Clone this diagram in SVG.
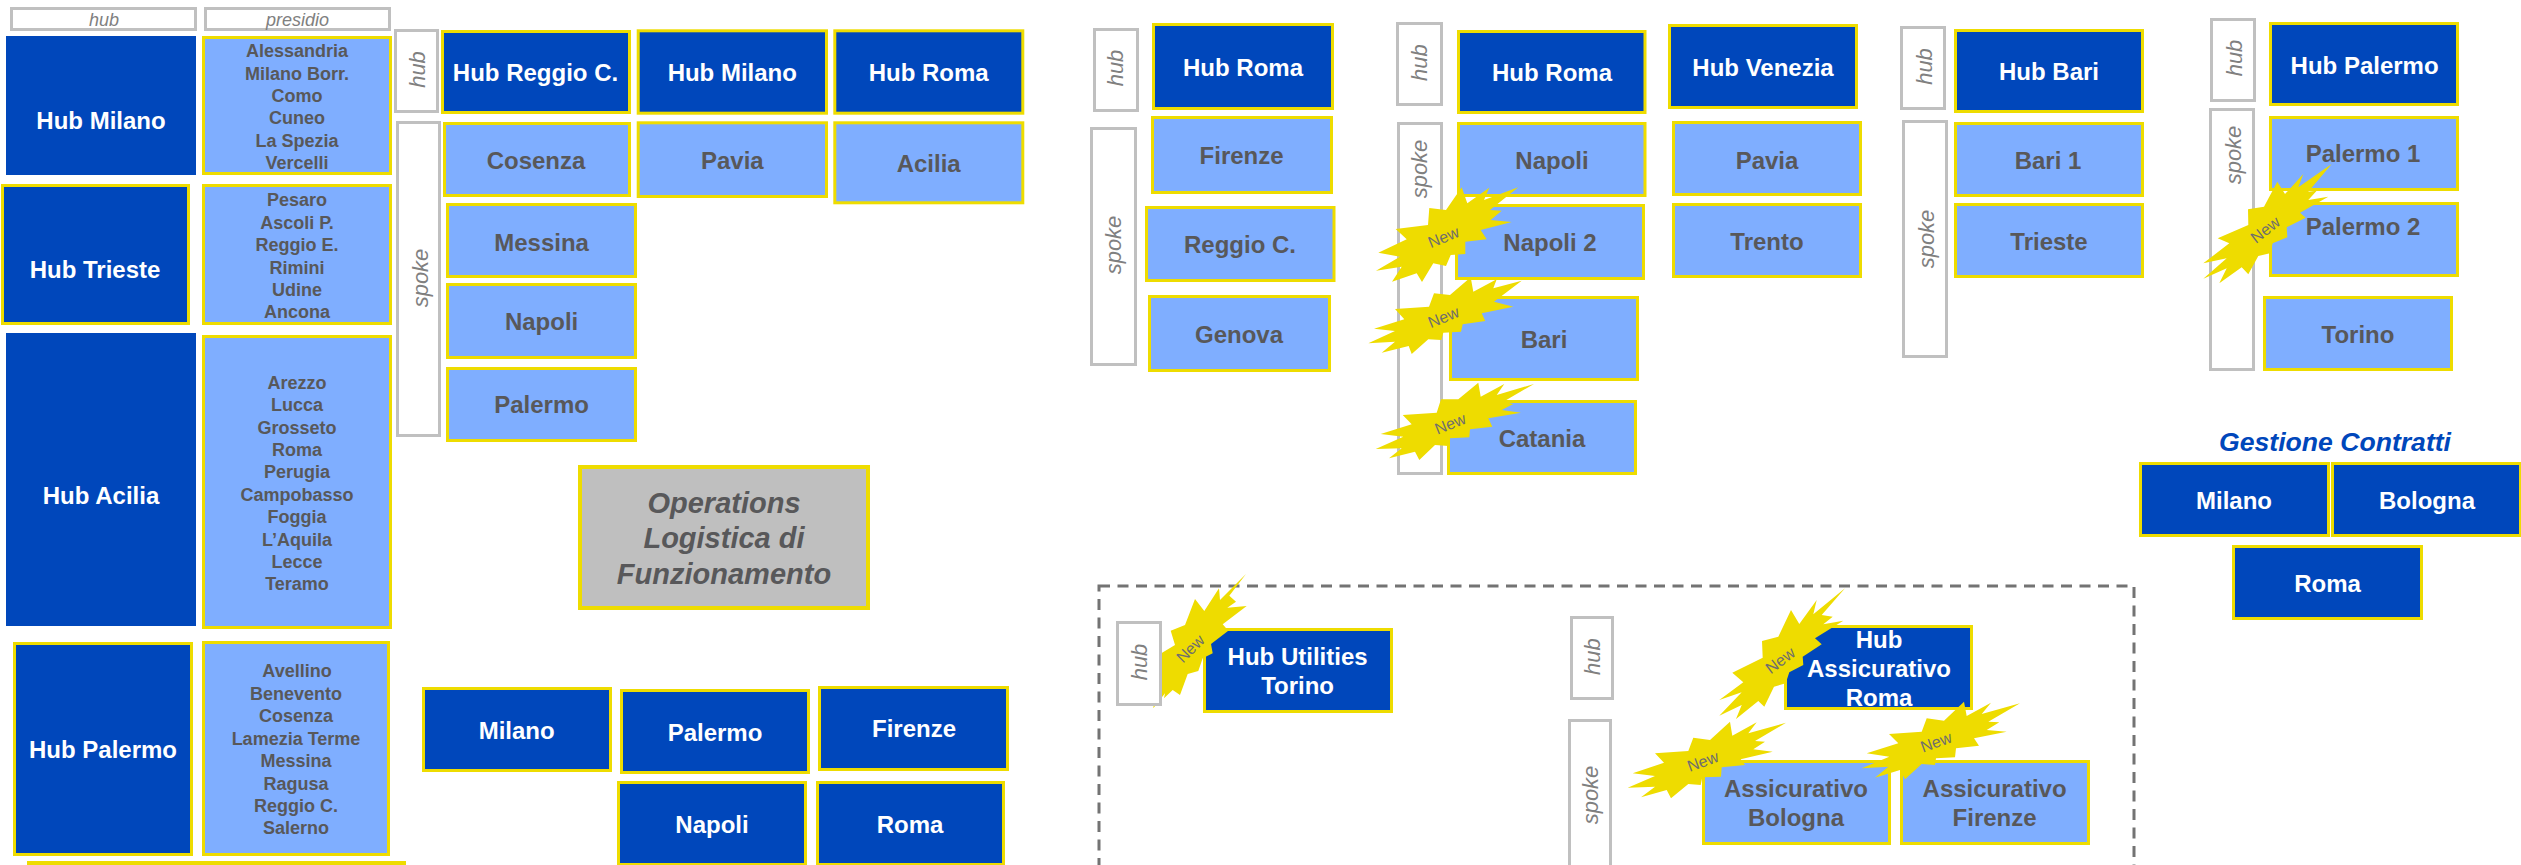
<svg xmlns="http://www.w3.org/2000/svg" width="2521" height="865" viewBox="0 0 2521 865">
<style>
text{font-family:"Liberation Sans",Arial,sans-serif;text-anchor:middle}
.b{fill:#0047BB;stroke:#EEDC00;stroke-width:3}
.n{fill:#0047BB}
.l{fill:#7FAEFF;stroke:#EEDC00;stroke-width:3}
.g{fill:#BFBFBF;stroke:#EEDC00;stroke-width:4}
.t{fill:#fff;stroke:#C0C0C0;stroke-width:3}
.h{fill:#fff;font-weight:bold;font-size:24px}
.d{fill:#58585A;font-weight:bold;font-size:24px}
.p{fill:#58585A;font-weight:bold;font-size:18px}
.o{fill:#58585A;font-weight:bold;font-style:italic;font-size:29px}
.c{fill:#0047BB;font-weight:bold;font-style:italic;font-size:26.6px}
.a{fill:#808080;font-style:italic;font-size:18px}
.v{fill:#808080;font-style:italic;font-size:22px}
.s{fill:#EEDC00}
.w{fill:#6E6E6E;font-size:16px}
.dash{fill:none;stroke:#737373;stroke-width:3;stroke-dasharray:11 7.5}
</style>
<g id="frame-utilities"><rect class="dash" x="1099" y="586" width="1035" height="420"/></g>

<g id="label-hub-top"><rect class="t" x="11.5" y="8.5" width="184" height="21"/><text class="a" x="104" y="26">hub</text></g>
<g id="label-presidio-top"><rect class="t" x="205.500" y="8.5" width="184" height="21"/><text class="a" x="297.500" y="26">presidio</text></g>

<g id="hub-milano"><rect class="n" x="6" y="36" width="190" height="139"/><text class="h" x="101" y="129">Hub Milano</text></g>
<g id="presidio-milano"><rect class="l" x="203.500" y="37.500" width="187" height="136"/><text class="p" x="297"><tspan x="297" y="57.300">Alessandria</tspan><tspan x="297" y="79.500">Milano Borr.</tspan><tspan x="297" y="102">Como</tspan><tspan x="297" y="124.400">Cuneo</tspan><tspan x="297" y="146.800">La Spezia</tspan><tspan x="297" y="169.300">Vercelli</tspan></text></g>
<g id="hub-trieste"><rect class="b" x="2.500" y="185.500" width="186" height="138"/><text class="h" x="95" y="278">Hub Trieste</text></g>
<g id="presidio-trieste"><rect class="l" x="203.500" y="185.500" width="187" height="138"/><text class="p"><tspan x="297" y="206.300">Pesaro</tspan><tspan x="297" y="228.700">Ascoli P.</tspan><tspan x="297" y="251">Reggio E.</tspan><tspan x="297" y="273.500">Rimini</tspan><tspan x="297" y="296">Udine</tspan><tspan x="297" y="318.300">Ancona</tspan></text></g>
<g id="hub-acilia"><rect class="n" x="6" y="333" width="190" height="293"/><text class="h" x="101" y="504">Hub Acilia</text></g>
<g id="presidio-acilia"><rect class="l" x="203.500" y="336.500" width="187" height="291"/><text class="p"><tspan x="297" y="389">Arezzo</tspan><tspan x="297" y="411.300">Lucca</tspan><tspan x="297" y="434">Grosseto</tspan><tspan x="297" y="456">Roma</tspan><tspan x="297" y="478.300">Perugia</tspan><tspan x="297" y="501">Campobasso</tspan><tspan x="297" y="523.300">Foggia</tspan><tspan x="297" y="546">L’Aquila</tspan><tspan x="297" y="568">Lecce</tspan><tspan x="297" y="590">Teramo</tspan></text></g>
<g id="hub-palermo"><rect class="b" x="14.500" y="643.500" width="177" height="211"/><text class="h" x="103" y="757.700">Hub Palermo</text></g>
<g id="presidio-palermo"><rect class="l" x="203.500" y="642.500" width="185" height="212"/><text class="p"><tspan x="297" y="677.300">Avellino</tspan><tspan x="296" y="700">Benevento</tspan><tspan x="296" y="722.300">Cosenza</tspan><tspan x="296" y="745">Lamezia Terme</tspan><tspan x="296" y="767.300">Messina</tspan><tspan x="296" y="790">Ragusa</tspan><tspan x="296" y="812.300">Reggio C.</tspan><tspan x="296" y="834">Salerno</tspan></text></g>
<g id="bottom-bar"><rect class="s" x="27" y="861" width="379" height="4"/></g>

<g id="label-hub-1"><rect class="t" x="395.500" y="30.500" width="42" height="81"/><text class="v" transform="translate(424.500 69.500) rotate(-90)">hub</text></g>
<g id="label-spoke-1"><rect class="t" x="397.500" y="122.500" width="42" height="313"/><text class="v" transform="translate(428 278) rotate(-90)">spoke</text></g>
<g id="hub-reggio"><rect class="b" x="442.500" y="31.500" width="187" height="81"/><text class="h" x="535.500" y="81">Hub Reggio C.</text></g>
<g id="cosenza"><rect class="l" x="444.500" y="123.500" width="185" height="72"/><text class="d" x="536" y="169.300">Cosenza</text></g>
<g id="messina"><rect class="l" x="447.500" y="204.500" width="188" height="72"/><text class="d" x="541.600" y="250.700">Messina</text></g>
<g id="napoli-1"><rect class="l" x="447.500" y="284.500" width="188" height="73"/><text class="d" x="541.600" y="330">Napoli</text></g>
<g id="palermo-1"><rect class="l" x="447.500" y="368.500" width="188" height="72"/><text class="d" x="541.600" y="413.300">Palermo</text></g>
<g id="hub-milano-2"><rect class="b" x="638.200" y="30.800" width="188.300" height="82.400"/><text class="h" x="732.300" y="80.700">Hub Milano</text></g>
<g id="hub-roma-1"><rect class="b" x="834.800" y="30.800" width="188" height="82.400"/><text class="h" x="928.700" y="80.700">Hub Roma</text></g>
<g id="pavia-1"><rect class="l" x="638.200" y="122.800" width="188.300" height="73.700"/><text class="d" x="732.300" y="169">Pavia</text></g>
<g id="acilia"><rect class="l" x="834.800" y="122.800" width="188" height="80"/><text class="d" x="928.700" y="171.700">Acilia</text></g>

<g id="operations"><rect class="g" x="580" y="467" width="288" height="141"/><text class="o"><tspan x="724" y="512.700">Operations</tspan><tspan x="724" y="548">Logistica di</tspan><tspan x="724" y="584">Funzionamento</tspan></text></g>

<g id="milano-3"><rect class="b" x="423.500" y="688.500" width="187" height="82"/><text class="h" x="516.700" y="739.300">Milano</text></g>
<g id="palermo-3"><rect class="b" x="621.500" y="690.500" width="187" height="82"/><text class="h" x="715" y="741">Palermo</text></g>
<g id="firenze-3"><rect class="b" x="819.500" y="687.500" width="188" height="82"/><text class="h" x="914" y="736.700">Firenze</text></g>
<g id="napoli-3"><rect class="b" x="618.500" y="782.500" width="187" height="82"/><text class="h" x="712" y="832.700">Napoli</text></g>
<g id="roma-3"><rect class="b" x="817.500" y="782.500" width="186" height="82"/><text class="h" x="910" y="832.700">Roma</text></g>

<g id="label-hub-2"><rect class="t" x="1094.500" y="29.500" width="43" height="81"/><text class="v" transform="translate(1123 68) rotate(-90)">hub</text></g>
<g id="label-spoke-2"><rect class="t" x="1091.500" y="128.500" width="44" height="236"/><text class="v" transform="translate(1121 245) rotate(-90)">spoke</text></g>
<g id="hub-roma-2"><rect class="b" x="1153.500" y="24.500" width="179" height="84"/><text class="h" x="1243" y="76">Hub Roma</text></g>
<g id="firenze-2"><rect class="l" x="1152.500" y="117.500" width="179" height="75"/><text class="d" x="1241.600" y="164">Firenze</text></g>
<g id="reggio-2"><rect class="l" x="1146.500" y="207.500" width="187.500" height="73"/><text class="d" x="1240" y="253">Reggio C.</text></g>
<g id="genova"><rect class="l" x="1149.500" y="296.500" width="180" height="74"/><text class="d" x="1239" y="343">Genova</text></g>

<g id="label-hub-3"><rect class="t" x="1397.500" y="23.500" width="44" height="81"/><text class="v" transform="translate(1427 62.700) rotate(-90)">hub</text></g>
<g id="label-spoke-3"><rect class="t" x="1398.500" y="123.500" width="43" height="350"/><text class="v" transform="translate(1427 169) rotate(-90)">spoke</text></g>
<g id="hub-roma-3"><rect class="b" x="1458.500" y="31.500" width="186.500" height="81"/><text class="h" x="1552" y="81">Hub Roma</text></g>
<g id="napoli-4"><rect class="l" x="1458.500" y="123.500" width="186.500" height="72"/><text class="d" x="1552" y="169">Napoli</text></g>
<g id="napoli-2"><rect class="l" x="1456.500" y="205.500" width="187" height="73"/><text class="d" x="1550" y="251">Napoli 2</text></g>
<g id="bari-4"><rect class="l" x="1450.500" y="297.500" width="187" height="82"/><text class="d" x="1544" y="347.700">Bari</text></g>
<g id="catania"><rect class="l" x="1448.500" y="401.500" width="187" height="72"/><text class="d" x="1542" y="446.700">Catania</text></g>

<g id="hub-venezia"><rect class="b" x="1669.500" y="25.500" width="187" height="82"/><text class="h" x="1763" y="76">Hub Venezia</text></g>
<g id="pavia-2"><rect class="l" x="1673.500" y="122.500" width="187" height="72"/><text class="d" x="1767" y="168.500">Pavia</text></g>
<g id="trento"><rect class="l" x="1673.500" y="204.500" width="187" height="72"/><text class="d" x="1767" y="250">Trento</text></g>

<g id="label-hub-4"><rect class="t" x="1901.500" y="27.500" width="43" height="81"/><text class="v" transform="translate(1932 66.500) rotate(-90)">hub</text></g>
<g id="label-spoke-4"><rect class="t" x="1903.500" y="121.500" width="43" height="235"/><text class="v" transform="translate(1934 239) rotate(-90)">spoke</text></g>
<g id="hub-bari"><rect class="b" x="1955.500" y="30.500" width="187" height="81"/><text class="h" x="2049" y="80">Hub Bari</text></g>
<g id="bari-1"><rect class="l" x="1955.500" y="123.500" width="187" height="72"/><text class="d" x="2048" y="169.400">Bari 1</text></g>
<g id="trieste"><rect class="l" x="1955.500" y="204.500" width="187" height="72"/><text class="d" x="2049" y="250">Trieste</text></g>

<g id="label-hub-5"><rect class="t" x="2211.500" y="19.500" width="43" height="81"/><text class="v" transform="translate(2241.500 58) rotate(-90)">hub</text></g>
<g id="label-spoke-5"><rect class="t" x="2210.500" y="109.500" width="43" height="260"/><text class="v" transform="translate(2240.700 155) rotate(-90)">spoke</text></g>
<g id="hub-palermo-5"><rect class="b" x="2270.500" y="23.500" width="187" height="81"/><text class="h" x="2364.600" y="73.500">Hub Palermo</text></g>
<g id="palermo-5-1"><rect class="l" x="2270.500" y="117.500" width="187" height="72"/><text class="d" x="2363" y="162.400">Palermo 1</text></g>
<g id="palermo-5-2"><rect class="l" x="2270.500" y="203.500" width="187" height="72"/><text class="d" x="2363" y="234.700">Palermo 2</text></g>
<g id="torino"><rect class="l" x="2264.500" y="297.500" width="187" height="72"/><text class="d" x="2358" y="343">Torino</text></g>

<g id="gestione-title"><text class="c" x="2335" y="451">Gestione Contratti</text></g>
<g id="gc-milano"><rect class="b" x="2140.500" y="463.500" width="188" height="72"/><text class="h" x="2234" y="509.400">Milano</text></g>
<g id="gc-bologna"><rect class="b" x="2332.500" y="463.500" width="188" height="72"/><text class="h" x="2427" y="509.400">Bologna</text></g>
<g id="gc-roma"><rect class="b" x="2233.500" y="546.500" width="188" height="72"/><text class="h" x="2327.500" y="592">Roma</text></g>

<g id="hub-utilities"><rect class="b" x="1204.500" y="629.500" width="187" height="82"/><text class="h"><tspan x="1297.600" y="664.700">Hub Utilities</tspan><tspan x="1297.600" y="694">Torino</tspan></text></g>
<g id="new-utilities"><polygon class="s" points="1195,599 1204.300,611 1219,588.300 1220,600 1246,574 1229.300,595.700 1236,601.700 1227.300,607.700 1246.700,606 1222.700,624.300 1228.300,630.700 1211,644 1212.700,653.300 1202.700,658.300 1198.300,671 1187.700,674 1180,695 1172.700,690 1164,698.300 1165,693.300 1153.300,708.300 1155,691.700 1146.700,691.700 1153.300,665 1150,660 1175,645 1170.700,630.700 1185,625"/><text class="w" transform="translate(1190 648.300) rotate(-45)" y="6">New</text></g>
<g id="label-hub-6"><rect class="t" x="1117.500" y="622.500" width="43" height="82"/><text class="v" transform="translate(1147 662) rotate(-90)">hub</text></g>
<g id="label-hub-7"><rect class="t" x="1571.500" y="617.500" width="41" height="81"/><text class="v" transform="translate(1600 656.700) rotate(-90)">hub</text></g>
<g id="label-spoke-7"><rect class="t" x="1569.500" y="720.500" width="41" height="180"/><text class="v" transform="translate(1598 795) rotate(-90)">spoke</text></g>
<g id="hub-assicurativo"><rect class="b" x="1785.500" y="626.500" width="186" height="82"/><text class="h"><tspan x="1879" y="648.300">Hub</tspan><tspan x="1879" y="677.300">Assicurativo</tspan><tspan x="1879" y="706">Roma</tspan></text></g>
<g id="assicurativo-bologna"><rect class="l" x="1703.500" y="761.500" width="186" height="82"/><text class="d"><tspan x="1796" y="797">Assicurativo</tspan><tspan x="1796" y="826">Bologna</tspan></text></g>
<g id="assicurativo-firenze"><rect class="l" x="1901.500" y="761.500" width="187" height="82"/><text class="d"><tspan x="1994.600" y="797">Assicurativo</tspan><tspan x="1994.600" y="826">Firenze</tspan></text></g>

<g id="new-napoli"><polygon class="s" points="1461.700,187.300 1467.300,203.300 1489.300,187.700 1484,200 1518.300,187.300 1490,210 1501.700,210.700 1490.700,220 1511.700,222 1480.700,230 1486.700,239.300 1465.300,241.700 1465.300,254 1450.700,255 1446,266 1433.300,263.300 1422,282 1416.700,273.300 1392,281.700 1401.700,266.700 1376,270.700 1400,256.700 1378.300,252.700 1406.700,239.300 1395.700,229 1428,225 1429.300,208 1446,210"/><text class="w" transform="translate(1443.300 236.700) rotate(-22)" y="6">New</text></g>
<g id="new-bari"><polygon class="s" points="1470.700,277.300 1473.300,291.700 1496.700,279.300 1493.300,288.300 1521.700,280.700 1494,301.700 1513.300,306.700 1481.700,313.300 1485.300,321 1462.700,324.300 1461,331.700 1443.300,332.700 1441.300,340 1428.300,339.300 1411.700,354 1408.700,346 1381.700,352.700 1395,341.700 1368.300,343.300 1395,331 1374,328.700 1404.300,319.300 1395,309 1429,306.700 1434,293.300 1450,295"/><text class="w" transform="translate(1443.300 316.700) rotate(-22)" y="6">New</text></g>
<g id="new-catania"><polygon class="s" points="1478.300,382.700 1480.700,396.700 1504.300,384 1496.700,395 1534,384 1503.300,401.700 1513.300,404 1501.700,410 1521,412.700 1488.300,418.300 1492.300,426.700 1470,429.300 1469.300,437.300 1450,438.300 1448.300,446 1435,445 1419.300,460 1415,451.700 1389,458.300 1401.700,448.300 1375.700,449 1403.300,436.700 1380.700,434 1411.700,424.300 1402.700,415 1436.700,412.700 1441,399.300 1458.300,399.300"/><text class="w" transform="translate(1450 423.300) rotate(-22)" y="6">New</text></g>
<g id="new-palermo"><polygon class="s" points="2277.300,181.700 2285,194 2303.300,174 2298.300,187.300 2331.700,164 2308.300,191.700 2316.700,190.700 2308.300,200 2328.300,196.700 2300,212.700 2305.700,217.700 2286.700,227.300 2287.300,237.300 2272.700,243.300 2270,253.300 2258.300,256 2248.300,274.300 2241.700,267.300 2219.300,283.300 2226.700,268.300 2203.300,278.700 2226.700,258.300 2203.300,263.300 2229.300,243.300 2217.700,238.300 2248.300,225 2248,209.300 2264,206.700"/><text class="w" transform="translate(2265 229.300) rotate(-38)" y="6">New</text></g>
<g id="new-assicurativo"><polygon class="s" points="1791,610 1799.300,624 1816.700,600 1813.300,614.300 1845,588.300 1821.700,615 1832.700,616.700 1823.300,624.300 1843.300,620.700 1815,638.300 1821.700,644.300 1802.700,656.700 1803.300,665 1789.300,672.300 1785.700,683.300 1774,686.700 1764.300,706.700 1758.300,701 1736,719 1741.700,705 1719.300,715.700 1741.700,692.300 1719.300,700 1743.300,682.300 1732.300,672.700 1762.700,657.700 1762,641 1778.300,636.700"/><text class="w" transform="translate(1780 660) rotate(-37)" y="6">New</text></g>
<g id="new-bologna"><polygon class="s" points="1730,721.700 1732.300,735.700 1756.700,722.300 1748.300,733.300 1786,722.700 1755,741 1765,741.700 1753.300,749.300 1772.700,751.700 1740.700,759.300 1745,765 1721.700,767.300 1721,776.700 1702.300,777.300 1700.700,785 1688.300,784 1671,798.300 1666.700,790 1641,797.300 1655,786.700 1627.700,787.700 1655,776 1632.700,773.300 1664,762.700 1655,753.300 1688.300,751 1693.300,737.700 1710,740"/><text class="w" transform="translate(1702.700 761) rotate(-20)" y="6">New</text></g>
<g id="new-firenze"><polygon class="s" points="1964,701.700 1966.700,716 1991,702.700 1981.700,714 2020,703.300 1988.300,721.700 1999.300,722.300 1986.700,730 2006.700,731.700 1974,738.300 1979,745.700 1956,748.300 1955,757.300 1936,758.300 1935,765 1921.700,764 1905,779.300 1900,770 1875,777.700 1888.300,766.700 1861.700,768.300 1889.300,756.700 1866.700,753.300 1898.300,743.300 1889,734 1921.700,731.700 1926.700,718.300 1944,720.700"/><text class="w" transform="translate(1936 741.700) rotate(-20)" y="6">New</text></g>
</svg>
